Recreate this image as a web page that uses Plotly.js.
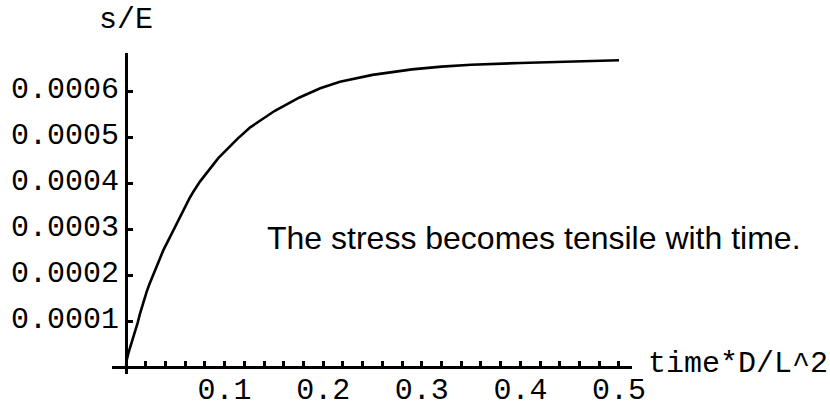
<!DOCTYPE html>
<html>
<head>
<meta charset="utf-8">
<script src="https://cdn.plot.ly/plotly-3.0.1.min.js"></script>
<style>html,body{margin:0;padding:0;background:#fff;}#chart{width:830px;height:403px;}</style>
</head>
<body>
<div id="chart"></div>
<script>
// time*D/L^2 values
const timeVals = [0, 0.0007, 0.0024, 0.0058, 0.0091, 0.0118, 0.0142, 0.0176, 0.021, 0.0237, 0.0277, 0.0304, 0.0335, 0.0379, 0.0419, 0.0453, 0.0487, 0.0548, 0.0575, 0.0609, 0.0642, 0.0683, 0.0723, 0.075, 0.0936, 0.113, 0.126, 0.151, 0.176, 0.197, 0.217, 0.231, 0.25, 0.27, 0.29, 0.32, 0.35, 0.4, 0.45, 0.5];
// s/E values
const stressVals = [0, 0.000015, 0.00003, 0.000052, 0.000075, 0.000096, 0.000116, 0.000142, 0.000164, 0.00018, 0.000202, 0.000217, 0.000233, 0.000254, 0.000271, 0.000286, 0.000301, 0.000325, 0.000337, 0.000352, 0.000366, 0.000381, 0.000394, 0.000403, 0.000454, 0.000496, 0.000521, 0.000557, 0.000586, 0.000606, 0.00062, 0.000627, 0.000635, 0.000641, 0.000647, 0.000653, 0.000657, 0.000661, 0.000664, 0.000667];

const xTickVals = [0.1, 0.2, 0.3, 0.4, 0.5];
const xTickText = ["0.1", "0.2", "0.3", "0.4", "0.5"];
const yTickVals = [0.0001, 0.0002, 0.0003, 0.0004, 0.0005, 0.0006];
const yTickText = ["0.0001", "0.0002", "0.0003", "0.0004", "0.0005", "0.0006"];

const xRange = [-0.0142, 0.5132];
const yRange = [-0.0000152, 0.0006826];

const monoFont = {family: "Liberation Mono, Courier New, monospace", size: 30, color: "#000"};

const trace = {
  x: timeVals, y: stressVals, type: "scatter", mode: "lines",
  line: {color: "#000", width: 2.6, shape: "linear"},
  hoverinfo: "skip"
};

const layout = {
  width: 830, height: 403,
  margin: {l: 112, r: 198, t: 53, b: 29, pad: 0},
  paper_bgcolor: "#fff", plot_bgcolor: "#fff",
  showlegend: false,
  xaxis: {
    range: xRange, anchor: "free",
    position: (0 - yRange[0]) / (yRange[1] - yRange[0]),
    showgrid: false, zeroline: false,
    showline: true, linecolor: "#000", linewidth: 3,
    tickmode: "array", tickvals: xTickVals, ticktext: xTickText,
    ticks: "inside", ticklen: 5, tickwidth: 3, tickcolor: "#000",
    ticklabelstandoff: -6,
    minor: {dtick: 0.02, tick0: 0, ticks: "inside", ticklen: 5, tickwidth: 3, tickcolor: "#000", showgrid: false},
    tickfont: monoFont, automargin: false, fixedrange: true
  },
  yaxis: {
    range: yRange, anchor: "free",
    position: (0 - xRange[0]) / (xRange[1] - xRange[0]),
    showgrid: false, zeroline: false,
    showline: true, linecolor: "#000", linewidth: 3,
    tickmode: "array", tickvals: yTickVals, ticktext: yTickText,
    ticks: "inside", ticklen: 5, tickwidth: 3, tickcolor: "#000",
    ticklabelstandoff: 0, ticklabelshift: -4,
    tickfont: monoFont, automargin: false, fixedrange: true
  },
  annotations: [
    {text: "s/E", xref: "x", x: 0, yref: "paper", y: 1, xanchor: "center", yanchor: "bottom",
     yshift: 14, showarrow: false, font: monoFont},
    {text: "time*D/L^2", xref: "paper", x: 1, yref: "y", y: 0, xanchor: "left", yanchor: "middle",
     xshift: 14, yshift: 3, showarrow: false, font: monoFont},
    {text: "The stress becomes tensile with time.", xref: "x", x: 0.4143, yref: "y", y: 0.0002804,
     xanchor: "center", yanchor: "middle", showarrow: false,
     font: {family: "Liberation Sans, Arial, sans-serif", size: 32, color: "#000"}}
  ]
};

Plotly.newPlot("chart", [trace], layout, {displayModeBar: false, staticPlot: true});
</script>
</body>
</html>
